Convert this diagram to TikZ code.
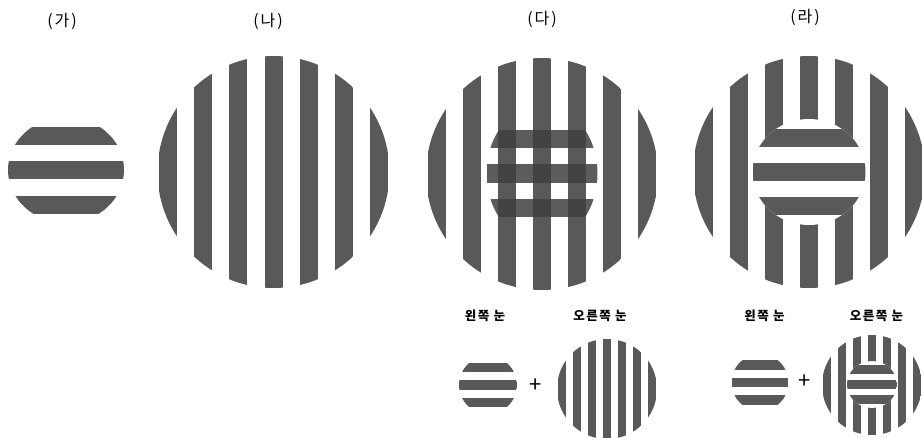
\documentclass[tikz,border=0pt]{standalone}
\usepackage{fontspec}
\newfontfamily\krfont{Noto Sans CJK KR}
\newfontfamily\krspaced{Noto Sans CJK KR}[LetterSpace=12]
\definecolor{stripegray}{RGB}{89,89,89}
\definecolor{overlaygray}{RGB}{64,64,64}
% vertical stripes in a disk: cx, cy, R, period, width
\newcommand\VStripes[5]{%
  \begin{scope}
    \clip (#1,#2) circle (#3pt);
    \foreach \k in {-4,...,4}{%
      \fill[stripegray] ({#1+\k*#4-#5/2},{#2-#3}) rectangle ({#1+\k*#4+#5/2},{#2+#3});}
  \end{scope}}
% horizontal stripes in an ellipse: cx, cy, a, b, period, width, style
\newcommand\HStripes[7]{%
  \begin{scope}
    \clip (#1,#2) ellipse [x radius=#3pt, y radius=#4pt];
    \foreach \k in {-1,0,1}{%
      \fill[#7] ({#1-#3},{#2+\k*#5-#6/2}) rectangle ({#1+#3},{#2+\k*#5+#6/2});}
  \end{scope}}
\tikzset{
  title/.style={font=\krspaced\fontsize{16}{18}\selectfont, inner sep=0pt},
  eyelbl/.style={font=\krspaced\bfseries\fontsize{12.5}{14}\selectfont, inner sep=0pt},
  plus/.style={font=\krfont\fontsize{22}{24}\selectfont, inner sep=0pt}
}
\begin{document}
\begin{tikzpicture}[x=1pt,y=-1pt]
\clip (0,0) rectangle (922,437);
\fill[white] (0,0) rectangle (922,437);

% titles
\node[title] (ga) at (62,21) {(가)};
\node[title] (na) at (268,21) {(나)};
\node[title] (da) at (542,19.5) {(다)};
\node[title] (ra) at (805,17) {(라)};

% (ga)
\HStripes{66}{170}{58}{53}{34.5}{18}{stripegray}

% (na)
\VStripes{273.5}{172}{116}{35.2}{18}

% (da)
\VStripes{542}{174}{116}{35}{18}
\HStripes{542}{173.5}{55.5}{69}{34.5}{18.5}{overlaygray, fill opacity=0.85}

% (ra)
\VStripes{809}{172}{116}{35}{18}
\fill[white] (809,172) ellipse [x radius=56.5pt, y radius=53pt];
\HStripes{809}{172}{56.5}{53}{34.3}{18}{stripegray}

% bottom (da)
\node[eyelbl] (dleft) at (485,316) {왼쪽 눈};
\node[eyelbl] (dright) at (600,316) {오른쪽 눈};
\HStripes{488}{385}{29}{29}{17.5}{9.5}{stripegray}
\node[plus] (dplus) at (536,386) {+};
\VStripes{607}{389}{50}{15}{8}

% bottom (ra)
\node[eyelbl] (rleft) at (764.5,315.5) {왼쪽 눈};
\node[eyelbl] (rright) at (876.5,315.5) {오른쪽 눈};
\HStripes{760}{382.5}{28.5}{28.5}{17.5}{9.5}{stripegray}
\node[plus] (rplus) at (805,382) {+};
\VStripes{872}{385}{50}{15}{8}
\fill[white] (872,384.5) ellipse [x radius=25pt, y radius=23.5pt];
\HStripes{872}{384.5}{25}{23.5}{14.8}{8.5}{stripegray}
\end{tikzpicture}
\end{document}
